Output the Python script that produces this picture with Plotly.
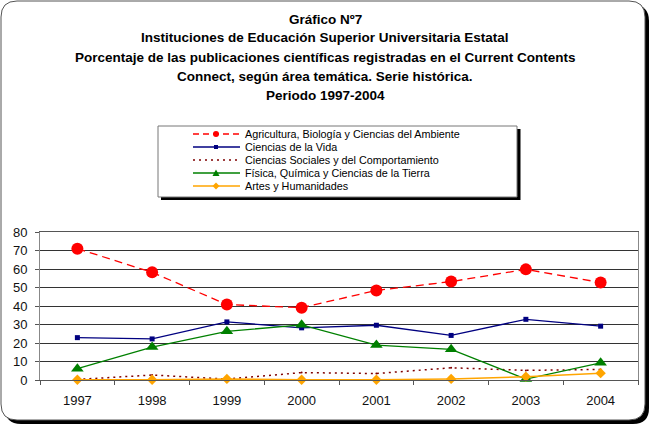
import plotly.graph_objects as go

years = ["1997", "1998", "1999", "2000", "2001", "2002", "2003", "2004"]
agricultura = [71, 58.2, 40.8, 39.1, 48.4, 53.2, 59.8, 52.7]
vida = [22.9, 22.2, 31.4, 28.2, 29.6, 24.1, 32.8, 29.1]
sociales = [0.3, 2.7, 0.5, 4.0, 3.5, 6.6, 5.2, 5.7]
fisica = [6.1, 17.8, 26.3, 29.8, 18.9, 16.6, 0.5, 9.3]
artes = [0.1, 0.1, 0.6, 0.1, 0.1, 0.6, 1.8, 3.7]

series_names = [
    "Agricultura, Biología y Ciencias del Ambiente",
    "Ciencias de la Vida",
    "Ciencias Sociales y del Comportamiento",
    "Física, Química y Ciencias de la Tierra",
    "Artes y Humanidades",
]
title_lines = [
    "Gráfico Nº7",
    "Instituciones de Educación Superior Universitaria Estatal",
    "Porcentaje de las publicaciones científicas registradas en el Current Contents",
    "Connect, según área temática. Serie histórica.",
    "Periodo 1997-2004",
]

W, H = 652, 428
L, R, T, B = 40, 14, 232, 48
PW, PH = W - L - R, H - T - B

def px(x):
    return (x - L) / PW

def py(y):
    return (H - B - y) / PH

FONT = "Liberation Sans, Arial, sans-serif"

fig = go.Figure()
styles = [
    dict(color="#FF0000", dash="8px,5px", width=1.3, symbol="circle", size=12),
    dict(color="#000080", dash="solid", width=1.3, symbol="square", size=5),
    dict(color="#800000", dash="2px,4px", width=1.5, symbol="circle", size=2),
    dict(color="#008000", dash="solid", width=1.3, symbol="triangle-up", size=11),
    dict(color="#FFA500", dash="solid", width=1.5, symbol="diamond", size=8),
]
for name, vals, st in zip(series_names, [agricultura, vida, sociales, fisica, artes], styles):
    fig.add_trace(go.Scatter(
        x=years, y=vals, name=name, mode="lines+markers",
        line=dict(color=st["color"], dash=st["dash"], width=st["width"]),
        marker=dict(symbol=st["symbol"], size=st["size"], color=st["color"]),
        showlegend=False, cliponaxis=False,
    ))

shapes = []
def rrect(x0, y0, x1, y1, r):
    return (f"M {px(x0+r)} {py(y0)} L {px(x1-r)} {py(y0)} "
            f"Q {px(x1)} {py(y0)} {px(x1)} {py(y0+r)} L {px(x1)} {py(y1-r)} "
            f"Q {px(x1)} {py(y1)} {px(x1-r)} {py(y1)} L {px(x0+r)} {py(y1)} "
            f"Q {px(x0)} {py(y1)} {px(x0)} {py(y1-r)} L {px(x0)} {py(y0+r)} "
            f"Q {px(x0)} {py(y0)} {px(x0+r)} {py(y0)} Z")

shapes.append(dict(type="path", xref="paper", yref="paper", path=rrect(5, 5, 649, 424, 16),
                   fillcolor="black", line=dict(width=0), layer="below"))
shapes.append(dict(type="path", xref="paper", yref="paper", path=rrect(1, 1, 645, 420, 16),
                   fillcolor="white", line=dict(color="#555555", width=1), layer="below"))

# legend box
shapes.append(dict(type="rect", xref="paper", yref="paper",
                   x0=px(161), x1=px(520.5), y0=py(129), y1=py(200),
                   fillcolor="black", line=dict(width=0), layer="below"))
shapes.append(dict(type="rect", xref="paper", yref="paper",
                   x0=px(158), x1=px(517), y0=py(126), y1=py(197),
                   fillcolor="white", line=dict(color="#777777", width=1), layer="below"))

annotations = []
leg_y = [134, 147, 160, 173, 186]
mk_sizes = [6, 4, 1.5, 7, 7]
leg_dash = ["6px,4px", "solid", "2px,4px", "solid", "solid"]
for name, st, yy, ms, ld in zip(series_names, styles, leg_y, mk_sizes, leg_dash):
    shapes.append(dict(type="line", xref="paper", yref="paper",
                       x0=px(193), x1=px(240), y0=py(yy), y1=py(yy),
                       line=dict(color=st["color"], dash=ld, width=1.3)))
    cx = 216
    h = ms / 2
    if st["symbol"] == "circle" and ms > 2:
        shapes.append(dict(type="circle", xref="paper", yref="paper",
                           x0=px(cx - h), x1=px(cx + h), y0=py(yy - h), y1=py(yy + h),
                           fillcolor=st["color"], line=dict(width=0)))
    elif st["symbol"] == "square":
        shapes.append(dict(type="rect", xref="paper", yref="paper",
                           x0=px(cx - h), x1=px(cx + h), y0=py(yy - h), y1=py(yy + h),
                           fillcolor=st["color"], line=dict(width=0)))
    elif st["symbol"] == "triangle-up":
        shapes.append(dict(type="path", xref="paper", yref="paper",
                           path=f"M {px(cx-h)} {py(yy+h-0.5)} L {px(cx+h)} {py(yy+h-0.5)} L {px(cx)} {py(yy-h)} Z",
                           fillcolor=st["color"], line=dict(width=0)))
    elif st["symbol"] == "diamond":
        shapes.append(dict(type="path", xref="paper", yref="paper",
                           path=f"M {px(cx-h)} {py(yy)} L {px(cx)} {py(yy-h)} L {px(cx+h)} {py(yy)} L {px(cx)} {py(yy+h)} Z",
                           fillcolor=st["color"], line=dict(width=0)))
    annotations.append(dict(xref="paper", yref="paper", x=px(243), y=py(yy),
                            xanchor="left", yanchor="middle", showarrow=False,
                            text=name, font=dict(family=FONT, size=10.8, color="black")))

title_y = [19, 38, 57, 76, 95]
for t, yy in zip(title_lines, title_y):
    annotations.append(dict(xref="paper", yref="paper", x=px(325), y=py(yy),
                            xanchor="center", yanchor="middle", showarrow=False,
                            text=f"<b>{t}</b>", font=dict(family=FONT, size=13.5, color="black")))

fig.update_layout(
    width=W, height=H,
    margin=dict(l=L, r=R, t=T, b=B, pad=0),
    paper_bgcolor="white", plot_bgcolor="white",
    font=dict(family=FONT, size=12, color="black"),
    shapes=shapes, annotations=annotations, showlegend=False,
    xaxis=dict(type="category", tickson="boundaries", ticks="outside", ticklen=4,
               tickcolor="#555555", showline=True, linecolor="#555555", mirror=True,
               showgrid=False, range=[-0.5, 7.5], ticklabelstandoff=8,
               tickfont=dict(family=FONT, size=13, color="#111111")),
    yaxis=dict(range=[0, 80], dtick=10, ticks="outside", ticklen=4, tickcolor="#555555",
               showline=True, linecolor="#888888", mirror=True,
               showgrid=True, gridcolor="#333333", gridwidth=1, zeroline=False,
               ticklabelstandoff=5,
               tickfont=dict(family=FONT, size=13, color="#111111")),
)

fig.write_html("out.html")
